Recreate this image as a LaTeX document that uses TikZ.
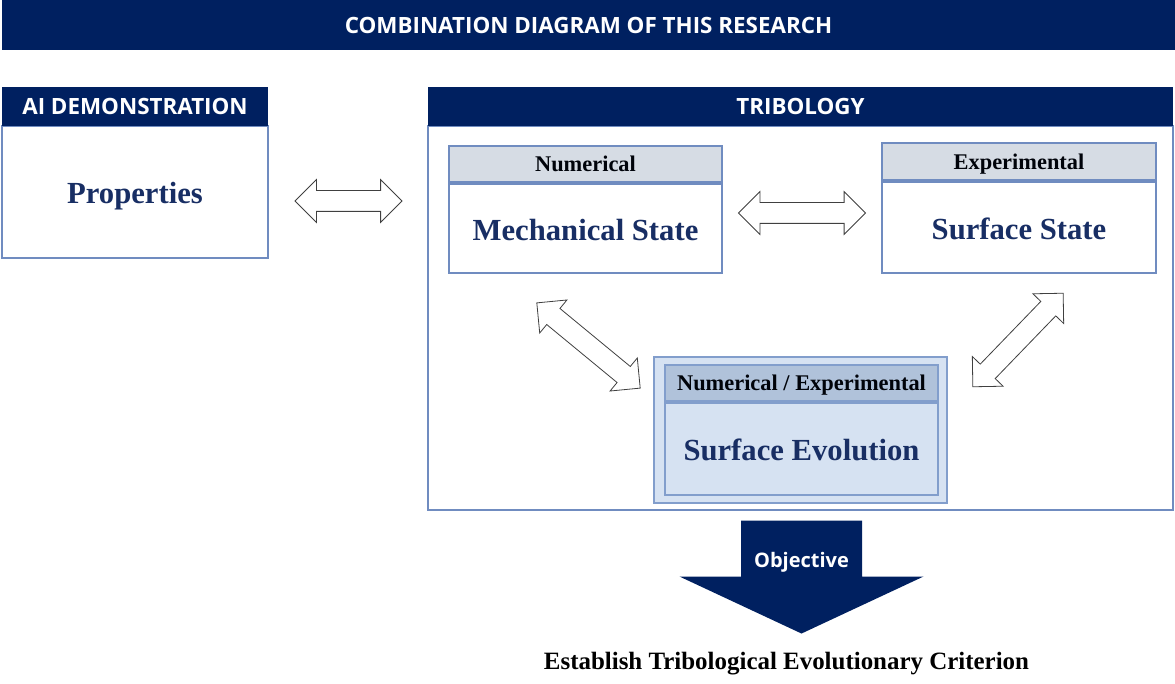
\documentclass[tikz,border=0pt]{standalone}
\usepackage{fontspec}
\setmainfont{Liberation Serif}
\newfontfamily\hdfont{Open Sans}
\usetikzlibrary{calc, positioning}
\usetikzlibrary{shapes.arrows}

\definecolor{navy}{RGB}{0,32,96}
\definecolor{txtnavy}{RGB}{24,46,100}
\definecolor{edgeblue}{RGB}{112,140,192}
\definecolor{grayhead}{RGB}{214,220,228}
\definecolor{evofill}{RGB}{214,226,242}
\definecolor{evohead}{RGB}{176,194,218}
\definecolor{evoedge}{RGB}{130,158,204}

\def\px{0.75pt}
\tikzset{
  darkbar/.style={rectangle, fill=navy, text=white, inner sep=0pt,
    font=\hdfont\bfseries\fontsize{16.8}{19}\selectfont},
  bodybox/.style={rectangle, draw=edgeblue, line width=0.8pt, fill=white, inner sep=0pt,
    text=txtnavy, font=\bfseries\fontsize{23}{26}\selectfont,
    text height=19pt, text depth=1.5pt},
  subhead/.style={rectangle, draw=edgeblue, line width=0.8pt, fill=grayhead, inner sep=0pt,
    text=black!90!navy, font=\bfseries\fontsize{16.8}{20}\selectfont,
    text height=12pt, text depth=0.6pt},
  dblarrow/.style={double arrow, draw=black!75, fill=white, line width=0.6pt,
    inner xsep=0pt, inner ysep=10*\px, double arrow head extend=11*\px}
}

\begin{document}
\begin{tikzpicture}[x=0.75pt,y=-0.75pt]
\useasboundingbox (0,0) rectangle (1175,684);

\node[darkbar, minimum width=1173*\px, minimum height=50*\px] (title) at (588.5,25) {COMBINATION DIAGRAM OF THIS RESEARCH};

\node[bodybox, minimum width=266*\px, minimum height=132*\px] (aibody) at (135,192) {Properties};
\node[darkbar, minimum width=266*\px, minimum height=39*\px] (aihead) at (135,106.5) {AI DEMONSTRATION};

\node[bodybox, minimum width=745*\px, minimum height=384*\px] (tribody) at (800.5,318) {};
\node[darkbar, minimum width=745*\px, minimum height=39*\px] (trihead) at (800.5,106.5) {TRIBOLOGY};

\node[subhead, minimum width=273*\px, minimum height=36*\px] (numhead) at (585.5,164) {Numerical};
\node[bodybox, minimum width=273*\px, minimum height=89*\px] (mech) at (585.5,228.5) {Mechanical State};

\node[subhead, minimum width=274*\px, minimum height=37*\px] (exphead) at (1019,161.5) {Experimental};
\node[bodybox, minimum width=274*\px, minimum height=91*\px] (surf) at (1019,227.5) {Surface State};

\node[rectangle, draw=evoedge, line width=0.8pt, fill=evofill, minimum width=293*\px, minimum height=146*\px] (evoouter) at (800.5,430) {};
\node[subhead, draw=evoedge, fill=evohead, minimum width=273*\px, minimum height=36*\px] (evohead) at (801.5,383) {Numerical / Experimental};
\node[bodybox, draw=evoedge, fill=evofill, minimum width=273*\px, minimum height=92*\px] (evo) at (801.5,449) {Surface Evolution};

\node[dblarrow, minimum height=107*\px] (a1) at ($(aibody.east)+(80,9)$) {};
\node[dblarrow, minimum height=127*\px] (a2) at ($(mech.east)!0.5!(surf.west)+(0,-15)$) {};
\node[dblarrow, minimum height=134*\px, rotate=-39.5] (a3) at (588.5,345.5) {};
\node[dblarrow, minimum height=130*\px, rotate=46] (a4) at (1018,340) {};

\coordinate (obj) at ($(tribody.south)+(1,10)$);
\fill[navy] (obj) ++(-60.5,0) -- ++(121,0) -- ++(0,56) -- ++(61.5,0) -- ++(-122,57)
  -- ++(-122,-57) -- ++(61.5,0) -- cycle;
\node[text=white, font=\hdfont\bfseries\fontsize{15}{17}\selectfont] (objtxt) at ($(obj)+(0,42)$) {Objective};

\node[font=\bfseries\fontsize{18.7}{22}\selectfont] (crit) at (786.5,664) {Establish Tribological Evolutionary Criterion};
\end{tikzpicture}
\end{document}
